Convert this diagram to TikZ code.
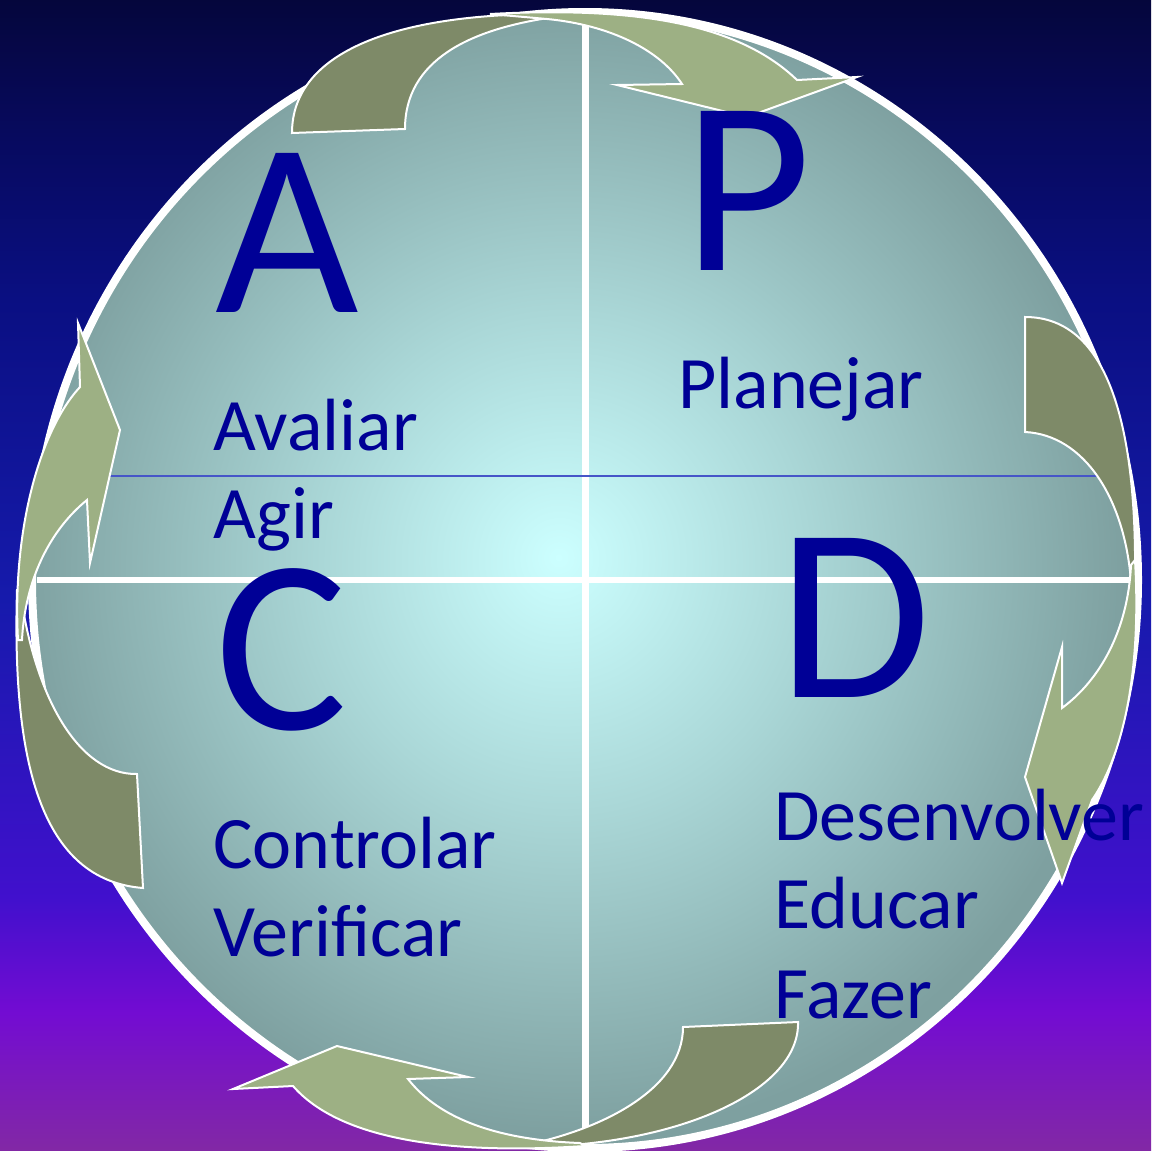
\documentclass[tikz,border=0pt]{standalone}
\usepackage{fontspec}
\setmainfont{Carlito}
\definecolor{bgA}{RGB}{130,40,165}
\definecolor{bgB}{RGB}{115,12,210}
\definecolor{bgC}{RGB}{65,16,205}
\definecolor{bgD}{RGB}{22,26,172}
\definecolor{bgE}{RGB}{10,15,130}
\definecolor{bgF}{RGB}{7,10,95}
\definecolor{bgG}{RGB}{5,6,60}
\definecolor{ballC}{RGB}{204,255,255}
\definecolor{ballM}{RGB}{170,215,215}
\definecolor{ballE}{RGB}{126,160,160}
\definecolor{arrD}{RGB}{126,138,104}
\definecolor{arrL}{RGB}{157,176,132}
\definecolor{txtc}{RGB}{0,0,150}
\definecolor{thinblue}{RGB}{70,85,200}
\pgfdeclareverticalshading{bgshade}{100bp}{color(0bp)=(bgA); color(25bp)=(bgA); color(31bp)=(bgB); color(36bp)=(bgC); color(49bp)=(bgD); color(62bp)=(bgE); color(69bp)=(bgF); color(75bp)=(bgG); color(100bp)=(bgG)}
\pgfdeclareradialshading{ballshade}{\pgfpoint{-1.2bp}{1bp}}{color(0bp)=(ballC); color(11bp)=(ballM); color(25bp)=(ballE); color(50bp)=(ballE)}
\begin{document}
\begin{tikzpicture}[x=0.5pt,y=-0.5pt,
  darkarr/.style={fill=arrD, draw=white, line width=1pt, line join=miter},
  lightarr/.style={fill=arrL, draw=white, line width=1pt, line join=miter},
  big/.style={text=txtc, inner sep=0pt, anchor=base west, font=\fontsize{124}{124}\selectfont},
  lbl/.style={text=txtc, inner sep=0pt, anchor=base west, font=\fontsize{37}{44}\selectfont}]
\useasboundingbox (0,0) rectangle (1151,1151);
\shade[shading=bgshade] (0,0) rectangle (1151,1151);
% disc
\shade[shading=ballshade] (585,580) ellipse [x radius=553, y radius=568];
\draw[white, line width=4pt] (585,580) ellipse [x radius=553, y radius=568];
% dividers
\draw[white, line width=3.5pt] (585,25) -- (585,1132);
\draw[white, line width=3pt] (37,580) -- (1133,580);
\draw[thinblue, line width=0.6pt] (60,476) -- (1100,476);
% top arrow
\draw[darkarr] (292,133) .. controls (292,50) and (400,14) .. (548,14) -- (548,18) .. controls (470,30) and (405,60) .. (405,129) -- cycle;
\draw[lightarr] (490,14) .. controls (640,6) and (740,25) .. (797,80) -- (857,77) -- (747,117) -- (617,85) -- (682,84) .. controls (660,50) and (610,25) .. (547,19) -- cycle;
% right arrow
\draw[darkarr] (1025,317) .. controls (1110,317) and (1137,430) .. (1135,582) -- (1131,582) .. controls (1125,500) and (1085,435) .. (1025,432) -- cycle;
\draw[lightarr] (1135,560) .. controls (1142,680) and (1120,760) .. (1092,800) -- (1062,883) -- (1025,777) -- (1062,647) -- (1062,708) .. controls (1100,680) and (1128,630) .. (1131,565) -- cycle;
% bottom arrow
\draw[darkarr] (798,1022) .. controls (800,1090) and (680,1146) .. (525,1147) -- (525,1145) .. controls (600,1130) and (683,1090) .. (683,1027) -- cycle;
\draw[lightarr] (585,1146) .. controls (450,1155) and (340,1140) .. (293,1086) -- (233,1089) -- (337,1046) -- (468,1077) -- (408,1079) .. controls (440,1120) and (500,1140) .. (580,1143) -- cycle;
% left arrow
\draw[darkarr] (143,888) .. controls (40,880) and (12,760) .. (17,590) -- (20,590) .. controls (35,700) and (80,775) .. (137,774) -- cycle;
\draw[lightarr] (18,640) .. controls (12,530) and (40,430) .. (80,387) -- (78,323) -- (120,430) -- (90,563) -- (87,500) .. controls (50,530) and (25,580) .. (22,640) -- cycle;
% letters
\node[big] (bigA) at (215,312) {A};
\node[big] (bigP) at (683,270) {P};
\node[big] (bigC) at (215,729) {C};
\node[big] (bigD) at (778,697) {D};
% labels
\node[lbl] (avaliar) at (213,450) {Avaliar};
\node[lbl] (agir) at (213,538) {Agir};
\node[lbl] (planejar) at (678,408) {Planejar};
\node[lbl] (controlar) at (213,868) {Controlar};
\node[lbl] (verificar) at (213,956) {Verificar};
\node[lbl] (desenvolver) at (774,840) {Desenvolver};
\node[lbl] (educar) at (774,928) {Educar};
\node[lbl] (fazer) at (774,1018) {Fazer};
\end{tikzpicture}
\end{document}
